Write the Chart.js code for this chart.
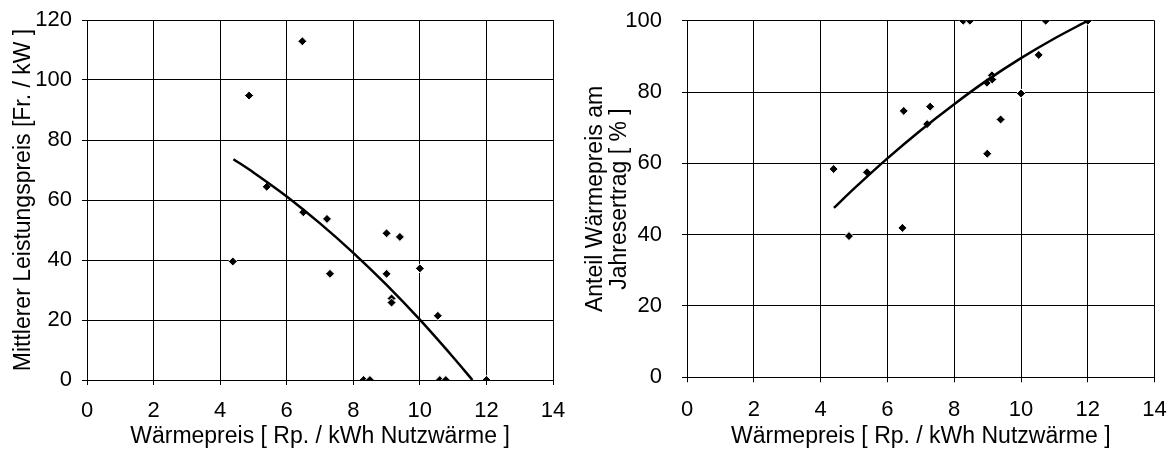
<!DOCTYPE html>
<html>
<head>
<meta charset="utf-8">
<script src="https://cdn.jsdelivr.net/npm/chart.js@4/dist/chart.umd.min.js"></script>
<style>
   body { margin: 0; background: #fff; }
   #leftBox { position: absolute; left: 0; top: 0; }
   #rightBox { position: absolute; left: 578px; top: 0; }
</style>
</head>
<body>
<div id="leftBox"><canvas id="powerChart" width="587" height="450"></canvas></div>
<div id="rightBox"><canvas id="shareChart" width="597" height="450"></canvas></div>
<script>
// x: Wärmepreis [Rp./kWh], same for both charts
const xTicks = [0, 2, 4, 6, 8, 10, 12, 14];

// left chart: Mittlerer Leistungspreis [Fr./kW]
const leftPrice = [4.38, 4.87, 5.40, 6.47, 6.50, 7.21, 7.30, 9.00, 9.40, 9.00, 10.00, 9.15, 9.15, 10.54, 8.31, 8.50, 10.60, 10.78, 12.00];
const leftPower = [39.5, 94.8, 64.4, 112.9, 55.9, 53.7, 35.4, 48.9, 47.7, 35.4, 37.2, 27.2, 25.8, 21.4, 0, 0, 0, 0, 0];
const leftTrendX = [4.4, 5, 6, 7, 8, 9, 10, 11, 11.58];
const leftTrendY = [73.6, 69.2, 61.2, 52.2, 42.4, 31.7, 20.1, 7.6, 0];
const leftYTicks = [0, 20, 40, 60, 80, 100, 120];

// right chart: Anteil Wärmepreis am Jahresertrag [%]
const rightPrice = [4.39, 4.85, 5.39, 6.45, 6.49, 7.19, 7.28, 8.27, 8.47, 8.98, 8.99, 9.13, 9.14, 9.39, 10.00, 10.53, 10.74, 12.00];
const rightShare = [58.4, 39.6, 57.5, 41.9, 74.7, 71.0, 75.9, 100, 100, 82.6, 62.7, 84.7, 83.5, 72.3, 79.6, 90.4, 100, 100];
const rightTrendX = [4.4, 5, 6, 7, 8, 9, 10, 11, 12];
const rightTrendY = [47.5, 52.9, 61.4, 69.3, 76.6, 83.4, 89.5, 95.0, 100];
const rightYTicks = [0, 20, 40, 60, 80, 100];

const fontFamily = "'Liberation Sans', Arial, sans-serif";
Chart.defaults.font.family = fontFamily;
Chart.defaults.color = '#000';

function toPoints(xs, ys) {
   return xs.map((x, i) => ({ x: x, y: ys[i] }));
}

// scale padding from labels is ignored, layout padding places the plot area
function noScalePadding(scale) {
   scale.paddingTop = 0;
   scale.paddingBottom = 0;
   scale.paddingLeft = 0;
   scale.paddingRight = 0;
}

function makeChart(canvasId, opts) {
   const ctx = document.getElementById(canvasId).getContext('2d');
   return new Chart(ctx, {
      type: 'scatter',
      data: {
         datasets: [{
            // trend line (drawn on top)
            data: toPoints(opts.trendX, opts.trendY),
            showLine: true,
            borderColor: '#000',
            borderWidth: 2.5,
            pointRadius: 0,
            tension: 0.3,
            fill: false
         }, {
            data: toPoints(opts.xs, opts.ys),
            pointStyle: 'rectRot',
            pointRadius: 4.5,
            backgroundColor: '#000',
            borderColor: '#fff',
            borderWidth: 1
         }]
      },
      options: {
         responsive: false,
         animation: false,
         events: [],
         layout: { padding: opts.padding },
         plugins: {
            legend: { display: false },
            tooltip: { enabled: false }
         },
         scales: {
            x: {
               type: 'linear',
               min: 0,
               max: 14,
               afterBuildTicks: (scale) => { scale.ticks = xTicks.map(v => ({ value: v })); },
               afterFit: (scale) => { scale.height = opts.xHeight; noScalePadding(scale); },
               grid: { color: '#000', lineWidth: 1, tickLength: 5 },
               border: { color: '#000', width: 1 },
               ticks: { font: { size: 22 }, padding: opts.xTickPad, maxRotation: 0 },
               title: {
                  display: true,
                  text: 'Wärmepreis [ Rp. / kWh Nutzwärme ]',
                  font: { size: 23, lineHeight: 1.2 },
                  padding: { top: 0, bottom: 0 }
               }
            },
            y: {
               type: 'linear',
               min: 0,
               max: opts.yMax,
               afterBuildTicks: (scale) => { scale.ticks = opts.yTicks.map(v => ({ value: v })); },
               afterFit: (scale) => { scale.width = opts.yWidth; noScalePadding(scale); },
               grid: { color: '#000', lineWidth: 1, tickLength: 5 },
               border: { color: '#000', width: 1 },
               ticks: { font: { size: 22 }, padding: opts.yTickPad },
               title: {
                  display: true,
                  text: opts.yTitle,
                  font: { size: 23, lineHeight: 1.05 },
                  padding: { top: opts.yTitlePad, bottom: 0 }
               }
            }
         }
      }
   });
}

makeChart('powerChart', {
   xs: leftPrice, ys: leftPower,
   trendX: leftTrendX, trendY: leftTrendY,
   yTicks: leftYTicks, yMax: 120,
   yTitle: 'Mittlerer Leistungspreis [Fr. / kW ]',
   padding: { top: 20, right: 34, left: 0, bottom: 0 },
   xHeight: 70, yWidth: 87, xTickPad: 13, yTickPad: 10, yTitlePad: 12
});

makeChart('shareChart', {
   xs: rightPrice, ys: rightShare,
   trendX: rightTrendX, trendY: rightTrendY,
   yTicks: rightYTicks, yMax: 100,
   yTitle: ['Anteil Wärmepreis am', 'Jahresertrag [ % ]'],
   padding: { top: 20.7, right: 20.4, left: 0, bottom: 0 },
   xHeight: 72.7, yWidth: 109, xTickPad: 14, yTickPad: 20, yTitlePad: 5.6
});
</script>
</body>
</html>
